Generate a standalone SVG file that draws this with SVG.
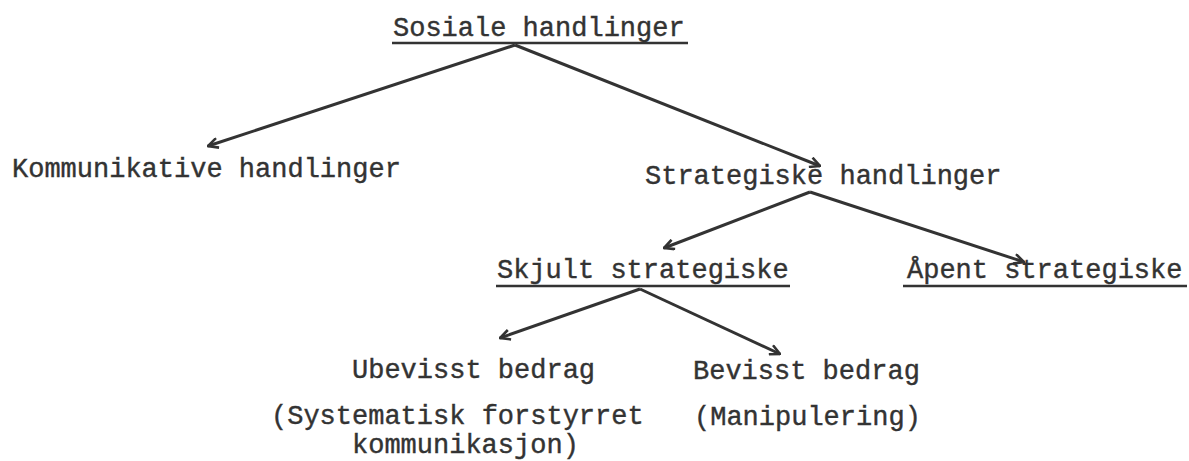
<svg xmlns="http://www.w3.org/2000/svg" width="1189" height="461" viewBox="0 0 1189 461">
<style>
text{font-family:"Liberation Mono","Courier New",monospace;font-size:27px;fill:#333;stroke:#333;stroke-width:0.4}
.ul{stroke:#333;stroke-width:2.6}
.con{stroke:#333;stroke-width:3;fill:none;marker-end:url(#ah)}
</style>
<defs>
<marker id="ah" viewBox="0 0 12 12" refX="11" refY="6" markerWidth="12" markerHeight="12" markerUnits="userSpaceOnUse" orient="auto">
<path d="M1,1 L11,6 L1,11" fill="none" stroke="#333" stroke-width="2.6" stroke-linejoin="miter"/>
</marker>
</defs>
<rect width="1189" height="461" fill="#fff"/>
<g id="connectors">
<line class="con" x1="515" y1="45" x2="208" y2="146"/>
<line class="con" x1="515" y1="45" x2="820" y2="166"/>
<line class="con" x1="810" y1="192" x2="664" y2="248"/>
<line class="con" x1="810" y1="192" x2="1024" y2="262"/>
<line class="con" x1="640" y1="289" x2="500" y2="338"/>
<line class="con" x1="640" y1="289" x2="780" y2="354"/>
</g>
<g id="sosiale"><text x="393" y="36">Sosiale handlinger</text><line class="ul" x1="392" y1="43" x2="688" y2="43"/></g>
<g id="kommunikative"><text x="12" y="177">Kommunikative handlinger</text></g>
<g id="strategiske"><text x="645" y="184">Strategiske handlinger</text></g>
<g id="skjult"><text x="497" y="278">Skjult strategiske</text><line class="ul" x1="496" y1="286" x2="790" y2="286"/></g>
<g id="apent"><text x="907" y="278">Åpent strategiske</text><line class="ul" x1="903" y1="286" x2="1187" y2="286"/></g>
<g id="ubevisst"><text x="352" y="378">Ubevisst bedrag</text><text x="271" y="424">(Systematisk forstyrret</text><text x="352" y="453">kommunikasjon)</text></g>
<g id="bevisst"><text x="693" y="379">Bevisst bedrag</text><text x="694" y="425">(Manipulering)</text></g>
</svg>
